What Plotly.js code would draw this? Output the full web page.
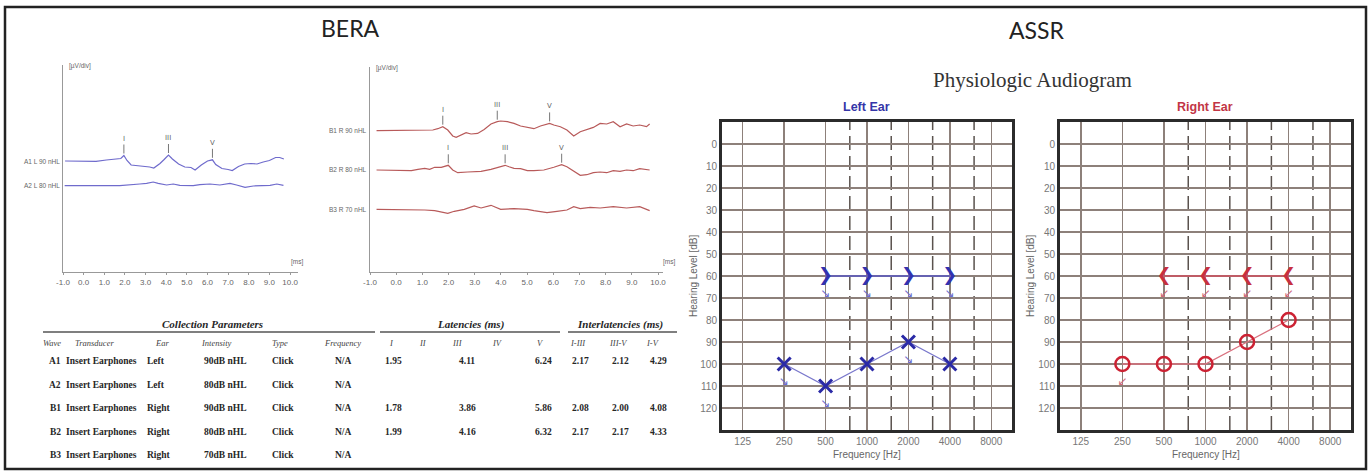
<!DOCTYPE html>
<html>
<head>
<meta charset="utf-8">
<script src="https://cdn.plot.ly/plotly-3.0.1.min.js"></script>
<style>html,body{margin:0;padding:0;background:#fff;}#chart{width:1371px;height:472px;}</style>
</head>
<body>
<div id="chart"></div>
<script>
// ---------------- DATA ----------------
// BERA waveforms: time (ms) and amplitude (uV, relative to each trace baseline)
const a1T = [-0.9,-0.2,0.6,1.1,1.5,1.8,1.95,2.1,2.3,2.6,2.9,3.2,3.4,3.7,3.9,4.11,4.3,4.6,4.9,5.2,5.4,5.7,6.0,6.24,6.4,6.7,7.0,7.2,7.5,7.8,8.1,8.4,8.7,9.0,9.3,9.5,9.7];
const a1V = [0,0,-0.03,0.1,0.2,0.25,0.55,0.05,-0.4,-0.45,-0.5,-0.6,-0.7,-0.25,0.15,0.6,0.2,-0.3,-0.6,-0.65,-0.9,-0.4,0.0,0.12,-0.35,-0.75,-0.85,-0.95,-0.55,-0.3,-0.25,-0.3,-0.1,0.05,0.35,0.35,0.2];
const a2T = [-0.92,0.78,1.75,2.72,3.05,3.37,3.61,4.02,4.34,4.66,5.31,5.63,6.12,6.6,7.09,7.41,7.82,8.22,8.71,9.03,9.36,9.68];
const a2V = [0,-0.03,0,0.17,0.23,0.37,0.23,0.07,0.17,0.03,0,0.1,0.17,0.07,0.23,0.07,-0.17,-0.03,0,0.03,0.17,0.03];
const b1T = [-0.75,0.2,1.09,1.4,1.59,1.78,1.97,2.16,2.29,2.48,2.67,2.86,3.11,3.36,3.62,3.86,3.99,4.25,4.5,4.75,5.01,5.26,5.51,5.86,6.02,6.27,6.52,6.78,7.03,7.28,7.53,7.79,8.04,8.29,8.55,8.8,9.05,9.3,9.56,9.68];
const b1V = [0,0,0.03,0.07,0.2,0.4,0.07,-0.53,-0.67,-0.43,-0.2,-0.33,-0.27,0.13,0.67,0.9,0.97,0.9,0.73,0.47,0.33,0.2,0.47,0.73,0.57,0.4,0.07,-0.53,-0.1,0.13,0.33,0.73,0.67,0.9,0.4,0.67,0.47,0.57,0.4,0.67];
const b2T = [-0.75,0.2,0.58,0.83,1.09,1.28,1.47,1.72,1.99,2.16,2.35,2.73,3.24,3.62,3.87,4.16,4.31,4.5,4.75,5.01,5.26,5.64,6.02,6.32,6.52,6.78,7.03,7.28,7.53,7.79,8.04,8.29,8.55,8.8,9.05,9.3,9.56,9.68];
const b2V = [0,0,-0.07,0.07,0.17,0.07,0.27,0.27,0.47,0,-0.27,-0.2,-0.13,0.07,0.27,0.47,0.33,0.17,0.13,-0.07,-0.07,0,0.27,0.53,0.33,-0.07,-0.53,-0.47,-0.27,-0.2,-0.27,-0.07,-0.13,0,-0.07,0.13,0.07,0];
const b3T = [-0.75,0.58,1.09,1.47,1.72,1.97,2.22,2.6,2.98,3.24,3.62,3.99,4.5,5.01,5.26,5.76,6.14,6.52,6.78,7.03,7.41,7.79,8.29,8.8,9.3,9.68];
const b3V = [0,0,-0.07,-0.13,-0.23,-0.4,-0.2,0,0.33,0.13,0.4,0,0.07,0,-0.13,-0.33,-0.2,-0.07,0.27,0.07,0.2,0.13,0.27,0.13,0.27,-0.13];
const waveTickVals = [-1,0,1,2,3,4,5,6,7,8,9,10];
const waveTickText = ["-1.0","0.0","1.0","2.0","3.0","4.0","5.0","6.0","7.0","8.0","9.0","10.0"];

// Table
const waves = ["A1","A2","B1","B2","B3"];
const transducers = ["Insert Earphones","Insert Earphones","Insert Earphones","Insert Earphones","Insert Earphones"];
const ears = ["Left","Left","Right","Right","Right"];
const intensities = ["90dB nHL","80dB nHL","90dB nHL","80dB nHL","70dB nHL"];
const stimTypes = ["Click","Click","Click","Click","Click"];
const stimFreqs = ["N/A","N/A","N/A","N/A","N/A"];
const latI   = [1.95,null,1.78,1.99,null];
const latIII = [4.11,null,3.86,4.16,null];
const latV   = [6.24,null,5.86,6.32,null];
const ilIIII = [2.17,null,2.08,2.17,null];
const ilIIIV = [2.12,null,2.00,2.17,null];
const ilIV   = [4.29,null,4.08,4.33,null];
const tableHeaders = ["Wave","Transducer","Ear","Intensity","Type","Frequency","I","II","III","IV","V","I-III","III-V","I-V"];

// Audiogram
const freqTicks = [125,250,500,1000,2000,4000,8000];
const freqTickText = ["125","250","500","1000","2000","4000","8000"];
const halfOctaves = [750,1500,3000,6000];
const dbTicks = [0,10,20,30,40,50,60,70,80,90,100,110,120];
const acFreqs = [250,500,1000,2000,4000];
const leftAC  = [100,110,100,90,100];
const leftACnr = [true,true,false,true,false];
const rightAC = [100,100,100,90,80];
const rightACnr = [true,false,false,false,false];
const bcFreqs = [500,1000,2000,4000];
const leftBC  = [60,60,60,60];
const rightBC = [60,60,60,60];

// ---------------- LAYOUT HELPERS ----------------
const W = 1371, H = 472;
const px = x => x / W;
const py = y => 1 - y / H;
const NR_OFFSET = 8;

const traces = [];
const annotations = [];
const shapes = [];

const blueWave = "#6f6bcc", redWave = "#b85a5a";
function addWave(t, v, base, xa, ya, color) {
  traces.push({x: t, y: v.map(d => d + base), xaxis: xa, yaxis: ya, mode: "lines",
    line: {color: color, width: 1.2}, hoverinfo: "skip", showlegend: false});
}
const baseA1 = 11.1, baseA2 = 8.63, baseB1 = 14.13, baseB2 = 10.2, baseB3 = 6.27;
addWave(a1T, a1V, baseA1, "x", "y", blueWave);
addWave(a2T, a2V, baseA2, "x", "y", blueWave);
addWave(b1T, b1V, baseB1, "x2", "y2", redWave);
addWave(b2T, b2V, baseB2, "x2", "y2", redWave);
addWave(b3T, b3V, baseB3, "x2", "y2", redWave);

function interp(t, v, x) {
  for (let i = 0; i < t.length - 1; i++) {
    if (x >= t[i] && x <= t[i+1]) return v[i] + (v[i+1]-v[i]) * (x - t[i]) / (t[i+1]-t[i]);
  }
  return 0;
}
function addPeaks(t, v, base, xr, yr, row) {
  const lats = [latI[row], latIII[row], latV[row]];
  const labs = ["I","III","V"];
  lats.forEach((L, k) => {
    if (L == null) return;
    const yv = base + interp(t, v, L);
    shapes.push({type: "line", xref: xr, yref: yr, x0: L, x1: L, y0: yv + 0.2, y1: yv + 1.1,
      line: {color: "#777", width: 1}});
    annotations.push({xref: xr, yref: yr, x: L, y: yv + 1.1, text: labs[k], showarrow: false,
      xanchor: "center", yanchor: "bottom", font: {family: "DejaVu Sans", size: 7, color: "#666"}});
  });
}
addPeaks(a1T, a1V, baseA1, "x", "y", 0);
addPeaks(b1T, b1V, baseB1, "x2", "y2", 2);
addPeaks(b2T, b2V, baseB2, "x2", "y2", 3);

function waveLabel(text, base, yr, xpx) {
  annotations.push({xref: "paper", yref: yr, x: px(xpx), y: base, text: text, showarrow: false,
    xanchor: "right", yanchor: "middle", font: {family: "Liberation Sans", size: 6.5, color: "#666"}});
}
waveLabel("A1 L 90 nHL", baseA1, "y", 62);
waveLabel("A2 L 80 nHL", baseA2, "y", 62);
waveLabel("B1 R 90 nHL", baseB1, "y2", 369);
waveLabel("B2 R 80 nHL", baseB2, "y2", 369);
waveLabel("B3 R 70 nHL", baseB3, "y2", 369);

function pann(text, x, y, opts) {
  annotations.push(Object.assign({xref: "paper", yref: "paper", x: px(x), y: py(y), text: text,
    showarrow: false, xanchor: "center", yanchor: "middle",
    font: {family: "Liberation Sans", size: 7, color: "#666"}}, opts || {}));
}
const tinyFont = {family: "Liberation Sans", size: 6.5, color: "#666"};
pann("[µV/div]", 67, 66, {xanchor: "left", font: tinyFont});
pann("[µV/div]", 374, 68, {xanchor: "left", font: tinyFont});
pann("[ms]", 289, 262, {xanchor: "left", font: tinyFont});
pann("[ms]", 661, 262, {xanchor: "left", font: tinyFont});

// Titles
pann("BERA", 350, 28, {font: {family: "Lato", size: 23, color: "#222"}});
pann("ASSR", 1037, 30, {font: {family: "Lato", size: 23, color: "#222"}});
pann("Physiologic Audiogram", 1032, 80, {font: {family: "Liberation Serif", size: 21, color: "#333"}});
pann("<b>Left Ear</b>", 866, 107, {font: {family: "Liberation Sans", size: 12.5, color: "#3535a8"}});
pann("<b>Right Ear</b>", 1205, 107, {font: {family: "Liberation Sans", size: 12.5, color: "#c23545"}});
const axTitleFont = {family: "Liberation Sans", size: 10, color: "#666"};
pann("Hearing Level [dB]", 693, 276, {textangle: -90, font: axTitleFont});
pann("Hearing Level [dB]", 1030, 276, {textangle: -90, font: axTitleFont});
pann("Frequency [Hz]", 867, 454, {font: axTitleFont});
pann("Frequency [Hz]", 1206, 454, {font: axTitleFont});

// Table
const serif = "Liberation Serif";
const tcol = "#262626";
pann("<b><i>Collection Parameters</i></b>", 212, 324, {font: {family: serif, size: 11, color: tcol}});
pann("<b><i>Latencies (ms)</i></b>", 470, 324, {font: {family: serif, size: 11, color: tcol}});
pann("<b><i>Interlatencies (ms)</i></b>", 620, 324, {font: {family: serif, size: 11, color: tcol}});
[[43,375],[380,560],[568,677]].forEach(s => shapes.push({type: "line", xref: "paper", yref: "paper",
  x0: px(s[0]), x1: px(s[1]), y0: py(332), y1: py(332), line: {color: "#555", width: 1.5}}));
const headX = [52,94,162,216,280,342,391,423,457,497,540,578,618,653];
tableHeaders.forEach((h, i) => pann("<i>" + h + "</i>", headX[i], 343,
  {font: {family: serif, size: 8.5, color: "#444"}}));
const rowY = [361,385,408,432,455];
const bold = s => "<b>" + s + "</b>";
const rowFont = {family: serif, size: 9.5, color: tcol};
const fmt = v => v == null ? "" : v.toFixed(2);
waves.forEach((w, r) => {
  const y = rowY[r];
  pann(bold(w), 63, y, {xanchor: "right", font: rowFont});
  pann(bold(transducers[r]), 64, y, {xanchor: "left", font: rowFont});
  pann(bold(ears[r]), 145, y, {xanchor: "left", font: rowFont});
  pann(bold(intensities[r]), 225, y, {font: rowFont});
  pann(bold(stimTypes[r]), 283, y, {font: rowFont});
  pann(bold(stimFreqs[r]), 343, y, {font: rowFont});
  const vals = [latI[r], latIII[r], latV[r], ilIIII[r], ilIIIV[r], ilIV[r]];
  const vx = [393,467,543,580,620,658];
  vals.forEach((v, k) => { if (v != null) pann(bold(fmt(v)), vx[k], y, {font: rowFont}); });
});

// Audiogram traces
const leftMark = "#2b2aa6", leftLine = "#7a78cc", rightMark = "#cc2233", rightLine = "#d9707e";
function nrTrace(f, vals, flags, glyph, color, xa, ya) {
  const xs = [], ys = [];
  f.forEach((fr, i) => { if (flags[i]) { xs.push(fr); ys.push(vals[i] + NR_OFFSET); } });
  traces.push({x: xs, y: ys, xaxis: xa, yaxis: ya, mode: "text", text: xs.map(() => glyph),
    textposition: "middle center", textfont: {family: "DejaVu Sans", size: 12, color: color},
    hoverinfo: "skip", showlegend: false});
}
// Left ear
traces.push({x: bcFreqs, y: leftBC, xaxis: "x3", yaxis: "y3", mode: "lines+text",
  text: bcFreqs.map(() => "❯"), textposition: "middle center",
  textfont: {family: "DejaVu Sans", size: 18, color: "#3232b0"},
  line: {color: "#5a58c4", width: 1.3}, hoverinfo: "skip", showlegend: false});
nrTrace(bcFreqs, leftBC, bcFreqs.map(() => true), "↘", "#6f6fd0", "x3", "y3");
traces.push({x: acFreqs, y: leftAC, xaxis: "x3", yaxis: "y3", mode: "lines+markers",
  line: {color: leftLine, width: 1.3},
  marker: {symbol: "x-thin-open", size: 13, color: leftMark, line: {color: leftMark, width: 3}},
  hoverinfo: "skip", showlegend: false});
nrTrace(acFreqs, leftAC, leftACnr, "↘", "#6f6fd0", "x3", "y3");
// Right ear
traces.push({x: bcFreqs, y: rightBC, xaxis: "x4", yaxis: "y4", mode: "lines+text",
  text: bcFreqs.map(() => "❮"), textposition: "middle center",
  textfont: {family: "DejaVu Sans", size: 18, color: "#c8303f"},
  line: {color: "#d05060", width: 1.3}, hoverinfo: "skip", showlegend: false});
nrTrace(bcFreqs, rightBC, bcFreqs.map(() => true), "↙", "#d06a7a", "x4", "y4");
traces.push({x: acFreqs, y: rightAC, xaxis: "x4", yaxis: "y4", mode: "lines+markers",
  line: {color: rightLine, width: 1.3},
  marker: {symbol: "circle-open", size: 14, color: rightMark, line: {color: rightMark, width: 2.5}},
  hoverinfo: "skip", showlegend: false});
nrTrace(acFreqs, rightAC, rightACnr, "↙", "#d06a7a", "x4", "y4");

// Half-octave dashed lines
["x3","x4"].forEach((xa, j) => {
  halfOctaves.forEach(f => shapes.push({type: "line", xref: xa, yref: (j === 0 ? "y3" : "y4") + " domain",
    x0: f, x1: f, y0: 0, y1: 1, line: {color: "#5a524e", width: 1.5, dash: "14px,6px"}, layer: "below"}));
});

// Outer frame
shapes.push({type: "rect", xref: "paper", yref: "paper", x0: px(5), x1: px(1366), y0: py(469), y1: py(7),
  line: {color: "#222", width: 2.5}});

const waveX = (dom, rng) => ({domain: dom, range: rng, showline: true, linecolor: "#999", linewidth: 1,
  tickvals: waveTickVals, ticktext: waveTickText, ticks: "outside", ticklen: 2, tickcolor: "#999",
  tickfont: {family: "Liberation Sans", size: 8, color: "#666"}, showgrid: false, zeroline: false, fixedrange: true});
const waveY = (dom, rng, anchor) => ({domain: dom, range: rng, showline: true, linecolor: "#999", linewidth: 1,
  showticklabels: false, ticks: "", showgrid: false, zeroline: false, anchor: anchor});
const lo = Math.log10(125 / Math.SQRT2), hi = Math.log10(8000 * Math.SQRT2);
const audX = (dom, anchor) => ({type: "log", domain: dom, range: [lo, hi], anchor: anchor,
  tickvals: freqTicks, ticktext: freqTickText, showgrid: true, gridcolor: "#8d807a", gridwidth: 1.5,
  showline: true, mirror: true, linecolor: "#2b2b2b", linewidth: 3, ticks: "", zeroline: false,
  tickfont: {family: "Liberation Sans", size: 10, color: "#777"}});
const audY = (dom, anchor) => ({domain: dom, range: [130, -10], anchor: anchor,
  tickvals: dbTicks, showgrid: true, gridcolor: "#8d807a", gridwidth: 1.5,
  showline: true, mirror: true, linecolor: "#2b2b2b", linewidth: 3, ticks: "", zeroline: false,
  tickfont: {family: "Liberation Sans", size: 10, color: "#777"}});

const layout = {
  width: W, height: H, margin: {l: 0, r: 0, t: 0, b: 0}, paper_bgcolor: "#fff", plot_bgcolor: "rgba(0,0,0,0)",
  showlegend: false, font: {family: "Liberation Sans"},
  xaxis: Object.assign(waveX([px(63), px(298)], [-1, 10.385]), {anchor: "y"}),
  yaxis: waveY([py(272), py(65)], [0, 20.7], "x"),
  xaxis2: Object.assign(waveX([px(370), px(663)], [-1, 10.19]), {anchor: "y2"}),
  yaxis2: waveY([py(272), py(67)], [0, 20.5], "x2"),
  xaxis3: audX([px(722), px(1012)], "y3"),
  yaxis3: audY([py(430), py(122)], "x3"),
  xaxis4: audX([px(1060), px(1351)], "y4"),
  yaxis4: audY([py(430), py(122)], "x4"),
  annotations: annotations, shapes: shapes
};
Plotly.newPlot("chart", traces, layout, {staticPlot: true, displayModeBar: false});
</script>
</body>
</html>
